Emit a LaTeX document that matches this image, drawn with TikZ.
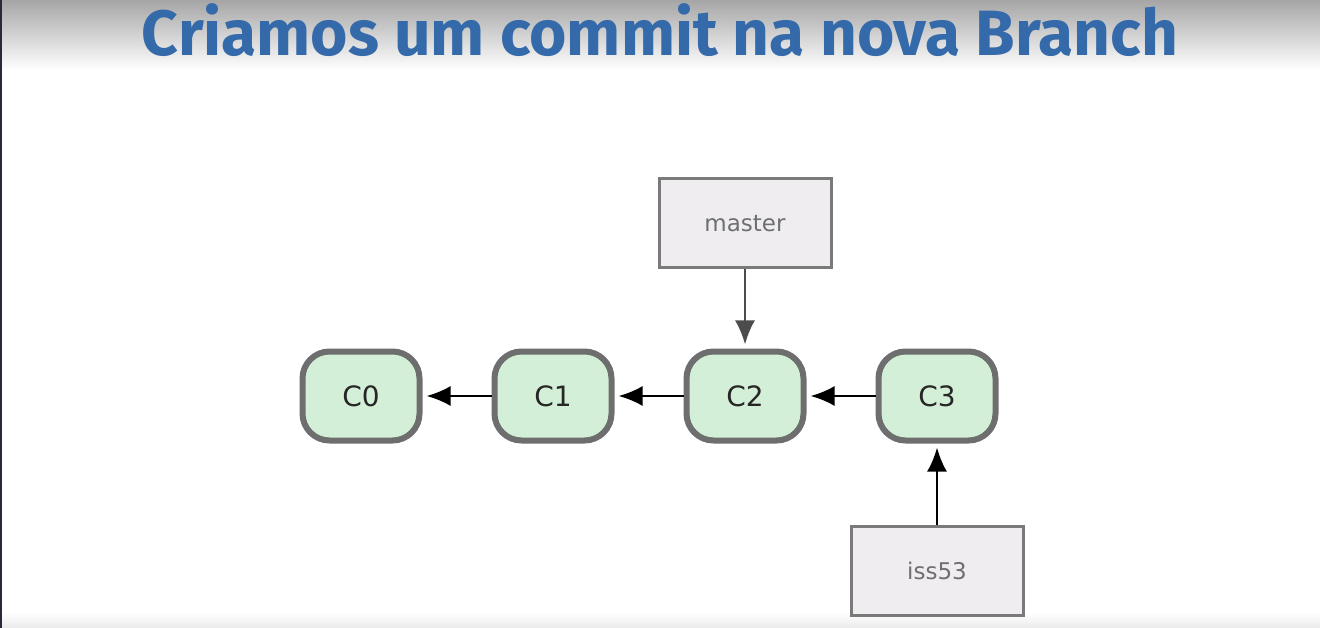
\documentclass[tikz,border=0pt]{standalone}
\usepackage{fontspec}
\setmainfont{DejaVu Sans}
\newfontfamily\titlefont{Fira Sans}
\usepackage{tikz}
\usetikzlibrary{arrows.meta,positioning}
\definecolor{TitleBlue}{HTML}{3469AA}
\definecolor{CommitFill}{HTML}{D4EFD8}
\definecolor{CommitEdge}{HTML}{6E6E6E}
\definecolor{BranchFill}{HTML}{EFEDF0}
\definecolor{BranchEdge}{HTML}{7A7A7A}
\definecolor{BranchText}{HTML}{6F6F6F}
\definecolor{SideBar}{HTML}{262B36}

\begin{document}
\begin{tikzpicture}[x=1pt,y=1pt,
    commit/.style={draw=CommitEdge, line width=6pt, fill=CommitFill, rounded corners=27pt,
      minimum width=117pt, minimum height=89pt, text=black!85, font=\fontsize{28}{32}\selectfont},
    branch/.style={draw=BranchEdge, line width=3pt, fill=BranchFill,
      minimum width=172pt, minimum height=89pt, text=BranchText, font=\fontsize{23}{26}\selectfont},
    ptr/.style={-{Latex[length=24pt,width=20pt]}, line width=2.5pt, shorten >=4pt}]

	% page and header
	\useasboundingbox (0,0) rectangle (1320,-628);
	\fill[white] (0,0) rectangle (1320,-628);
	\shade[top color=black!35, bottom color=white] (0,0) rectangle (1320,-70);
	\shade[top color=white, bottom color=black!8] (0,-612) rectangle (1320,-628);
	\fill[SideBar] (0,0) rectangle (2,-628);

	\node[text=TitleBlue, font=\titlefont\bfseries\fontsize{64}{66}\selectfont, anchor=base] (title) at (660,-56) {Criamos um commit na nova Branch};

	% commits
	\node[commit] (c0) at (361,-396) {C0};
	\node[commit, right=69pt of c0] (c1) {C1};
	\node[commit, right=69pt of c1] (c2) {C2};
	\node[commit, right=69pt of c2] (c3) {C3};

	% branches
	\node[branch, above=79pt of c2] (master) {master};
	\node[branch, below=81pt of c3] (iss53) {iss53};

	\draw[ptr] (c1) -- (c0);
	\draw[ptr] (c2) -- (c1);
	\draw[ptr] (c3) -- (c2);
	\draw[ptr, black!70] (master) -- (c2);
	\draw[ptr] (iss53) -- (c3);

\end{tikzpicture}
\end{document}
